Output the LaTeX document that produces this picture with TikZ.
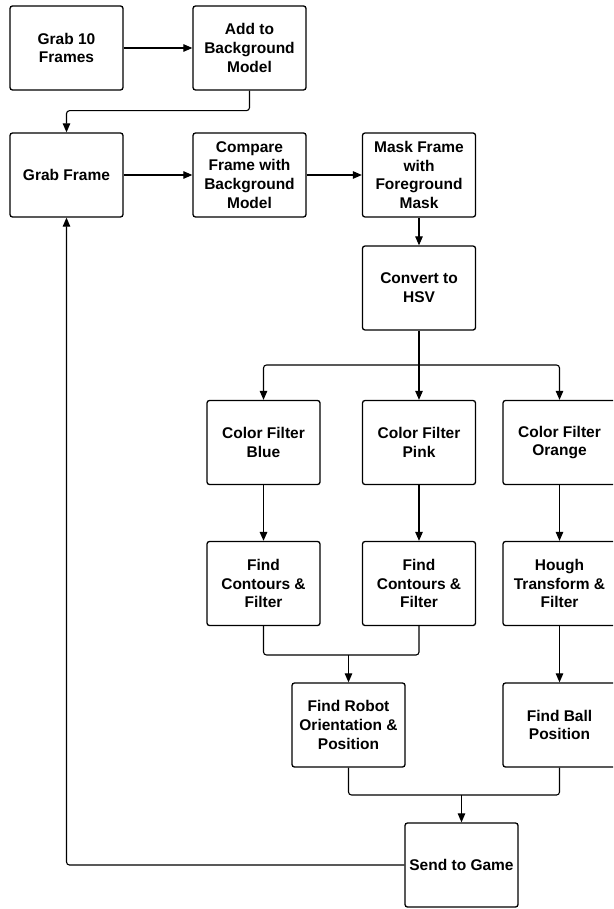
\documentclass[tikz,border=0pt]{standalone}
\usepackage{fontspec}
\setmainfont{Liberation Sans}
\usetikzlibrary{arrows.meta}

\begin{document}
\begin{tikzpicture}[x=1pt,y=-1pt,
  box/.style={draw, line width=1.3pt, rounded corners=2.5pt,
    minimum width=113pt, minimum height=84pt, align=center, inner sep=1pt,
    font=\bfseries\fontsize{15.5}{18.7}\selectfont},
  flow/.style={line width=1.1pt, rounded corners=3pt,
    -{Triangle[length=9pt,width=7.5pt]}},
  link/.style={line width=1.1pt, rounded corners=3pt}]
  % --- page: 613 x 909, y grows downwards ---
  \useasboundingbox (0,0) rectangle (613,909);
  \clip (0,0) rectangle (613,909);
  % Top rows — background model, then frame pipeline
  \node[box] (grabten) at ( 66.5, 48) {Grab 10\\Frames};
  \node[box] (addbg)   at (249.5, 48) {Add to\\Background\\Model};
  \node[box] (grabframe) at ( 66.5,175) {Grab Frame};
  \node[box] (compare) at (249.5,175) {Compare\\Frame with\\Background\\Model};
  \node[box] (mask)    at (419,  175) {Mask Frame\\with\\Foreground\\Mask};
  \node[box] (hsv)     at (419,  288) {Convert to\\HSV};
  % Three colour branches (orange column runs past the right edge)
  \node[box] (cfblue)   at (263.5,442.5) {Color Filter\\Blue};
  \node[box] (cfpink)   at (419,  442.5) {Color Filter\\Pink};
  \node[box] (cforange) at (559.5,442.5) {Color Filter\\Orange};
  \node[box] (fcblue)   at (263.5,583.5) {Find\\Contours \&\\Filter};
  \node[box] (fcpink)   at (419,  583.5) {Find\\Contours \&\\Filter};
  \node[box] (hough)    at (559.5,583.5) {Hough\\Transform \&\\Filter};
  % Results
  \node[box] (robot) at (348.5,725) {Find Robot\\Orientation \&\\Position};
  \node[box] (ball)  at (559.5,725) {Find Ball\\Position};
  \node[box] (send)  at (461.5,865) {Send to Game};
  % Junction points
  \coordinate (split) at (419,365);
  \coordinate (joinc) at (348.5,655);
  \coordinate (joinr) at (461.5,795);
  % Connectors
  \draw[flow] (grabten) -- (addbg);
  \draw[flow] (addbg.south) -- ++(0,20) -| (grabframe.north);
  \draw[flow] (grabframe) -- (compare);
  \draw[flow] (compare) -- (mask);
  \draw[flow] (mask) -- (hsv);
  \draw[link] (hsv.south) -- (split);
  \draw[flow] (split) -| (cfblue.north);
  \draw[flow] (split) -- (cfpink.north);
  \draw[flow] (split) -| (cforange.north);
  \draw[flow, line width=1.6pt] (cfblue) -- (fcblue);
  \draw[flow] (cfpink) -- (fcpink);
  \draw[flow] (cforange) -- (hough);
  \draw[link] (fcblue.south) |- (joinc) -| (fcpink.south);
  \draw[flow] (joinc) -- (robot.north);
  \draw[flow] (hough) -- (ball);
  \draw[link] (robot.south) |- (joinr) -| (ball.south);
  \draw[flow] (joinr) -- (send.north);
  % feedback loop back to the frame grabber
  \draw[flow] (send.west) -| (grabframe.south);
\end{tikzpicture}
\end{document}
